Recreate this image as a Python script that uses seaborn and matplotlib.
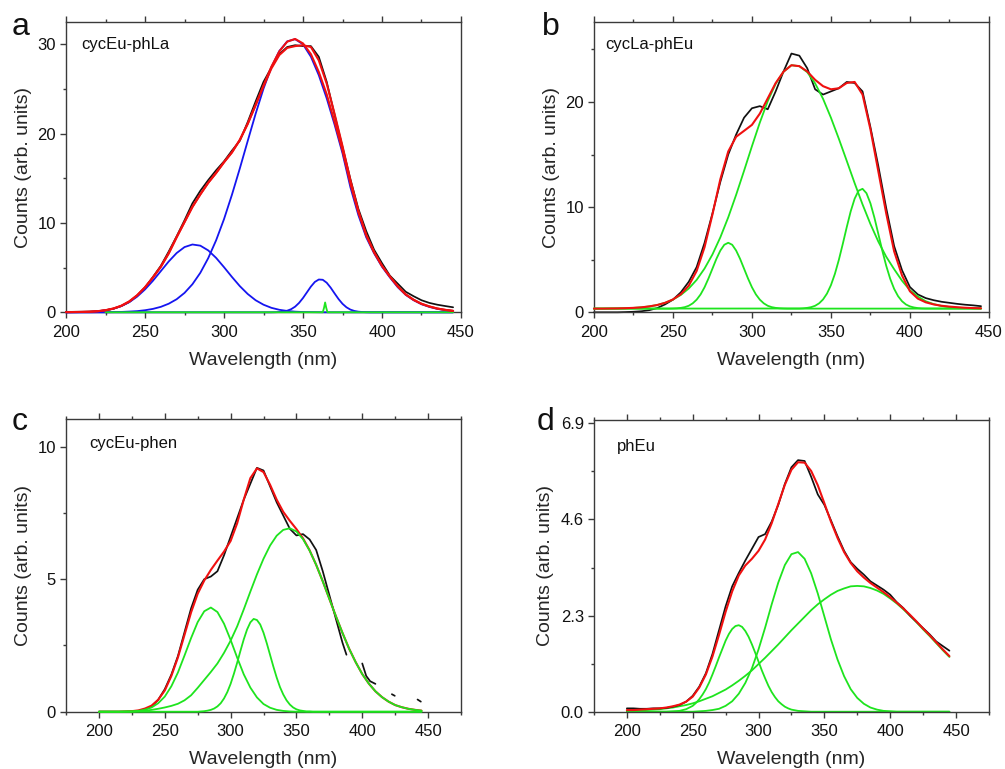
import matplotlib
matplotlib.use("Agg")
import matplotlib.pyplot as plt
import seaborn as sns
from matplotlib.ticker import FixedLocator, FixedFormatter

sns.set_style("ticks")
plt.rcParams['font.family'] = ['Liberation Sans', 'DejaVu Sans']


def grid(a, b, step):
    n = int(round((b - a) / step)) + 1
    return [a + step * i for i in range(n)]


# ---------------- data ----------------
wl = list(range(200, 450, 5))  # 200 ... 445 nm

# panel a : cycEu-phLa
a_black = [0.05, 0.05, 0.06, 0.08, 0.12, 0.22, 0.40, 0.70, 1.15, 1.85,
           2.75, 3.95, 5.2, 6.8, 8.5, 10.3, 12.2, 13.6, 14.8, 15.9,
           16.9, 18.1, 19.2, 21.3, 23.6, 25.8, 27.4, 28.9, 29.7, 29.9,
           29.8, 29.8, 28.6, 25.8, 22.1, 18.5, 14.9, 11.6, 9.1, 7.0,
           5.5, 4.1, 3.2, 2.3, 1.8, 1.35, 1.05, 0.85, 0.7, 0.56]
a_fit1 = [0.02, 0.03, 0.04, 0.06, 0.12, 0.23, 0.42, 0.73, 1.21, 1.90,
          2.80, 3.90, 5.10, 6.60, 8.40, 10.1, 11.8, 13.2, 14.5, 15.6,
          16.8, 17.9, 19.3, 21.1, 23.2, 25.4, 27.5, 29.2, 30.3, 30.6,
          30.1, 28.9, 26.9, 24.4, 21.3, 18.1, 14.4, 11.2, 8.6, 6.7,
          5.2, 4.0, 2.9, 2.0, 1.4, 0.95, 0.65, 0.42, 0.27, 0.16]
a_fit2 = [0.02, 0.03, 0.04, 0.06, 0.12, 0.23, 0.42, 0.73, 1.21, 1.90,
          2.80, 3.90, 5.10, 6.60, 8.40, 10.1, 11.8, 13.2, 14.5, 15.6,
          16.8, 17.9, 19.3, 21.1, 23.2, 25.3, 27.3, 28.8, 29.6, 29.8,
          29.9, 29.7, 28.2, 25.6, 22.2, 18.6, 14.8, 11.4, 8.7, 6.75,
          5.2, 4.0, 2.9, 2.0, 1.4, 0.95, 0.65, 0.42, 0.27, 0.16]
a_blue1 = [0.00, 0.01, 0.02, 0.05, 0.11, 0.22, 0.40, 0.69, 1.13, 1.75,
           2.56, 3.53, 4.61, 5.69, 6.63, 7.30, 7.59, 7.46, 6.93, 6.09,
           5.05, 3.96, 2.93, 2.05, 1.35, 0.85, 0.50, 0.28, 0.15, 0.07,
           0.03, 0.02, 0.01, 0, 0, 0, 0, 0, 0, 0,
           0, 0, 0, 0, 0, 0, 0, 0, 0, 0]
a_blue2 = [0, 0, 0, 0, 0.01, 0.01, 0.02, 0.04, 0.08, 0.13,
           0.23, 0.38, 0.61, 0.96, 1.46, 2.17, 3.14, 4.42, 6.06, 8.06,
           10.43, 13.15, 16.10, 19.18, 22.22, 25.04, 27.44, 29.25, 30.33, 30.58,
           30.0, 28.61, 26.54, 23.95, 21.0, 17.8, 14.0, 10.9, 8.4, 6.6,
           5.1, 3.9, 2.8, 1.95, 1.35, 0.9, 0.6, 0.38, 0.24, 0.15]
a_blue3_x = [200] + grid(330, 392.5, 2.5) + [445]
a_blue3 = [0,
           0.00, 0.01, 0.03, 0.08, 0.18, 0.35, 0.63, 1.05, 1.60, 2.24,
           2.88, 3.40, 3.67, 3.64, 3.31, 2.76, 2.11, 1.48, 0.95, 0.56,
           0.30, 0.15, 0.07, 0.03, 0.01, 0.0,
           0]
a_green_x = [225, 362.5, 363.3, 364.0, 364.7, 365.5, 445]
a_green = [0, 0, 0.5, 1.1, 0.5, 0, 0]

# panel b : cycLa-phEu
b_black = [0.0, 0.0, 0.0, 0.0, 0.02, 0.05, 0.10, 0.20, 0.40, 0.75,
           1.20, 1.90, 2.90, 4.30, 6.60, 9.40, 12.40, 15.00, 16.90, 18.50,
           19.40, 19.60, 19.30, 21.00, 22.90, 24.60, 24.40, 23.20, 21.20, 20.70,
           21.00, 21.30, 21.90, 21.80, 21.00, 17.60, 13.90, 9.90, 6.30, 4.00,
           2.40, 1.70, 1.35, 1.15, 1.00, 0.90, 0.80, 0.72, 0.66, 0.58]
b_fit = [0.35, 0.35, 0.36, 0.37, 0.39, 0.42, 0.47, 0.56, 0.69, 0.90,
         1.22, 1.72, 2.53, 3.93, 6.19, 9.30, 12.65, 15.29, 16.69, 17.25,
         17.82, 18.89, 20.34, 21.79, 22.88, 23.49, 23.40, 22.90, 22.10, 21.50,
         21.20, 21.30, 21.80, 21.90, 20.70, 17.40, 13.40, 9.40, 5.80, 3.50,
         2.00, 1.30, 0.95, 0.75, 0.62, 0.54, 0.48, 0.43, 0.40, 0.38]
b_comp1_x = [200] + grid(245, 325, 2.5) + [445]
b_comp1 = [0.35,
           0.35, 0.35, 0.36, 0.38, 0.42, 0.49, 0.62, 0.85, 1.20, 1.70,
           2.38, 3.22, 4.15, 5.08, 5.87, 6.42, 6.61, 6.42, 5.87, 5.08,
           4.15, 3.22, 2.38, 1.70, 1.20, 0.85, 0.62, 0.49, 0.42, 0.38,
           0.36, 0.35, 0.35,
           0.35]
b_comp2 = [0.35, 0.35, 0.36, 0.37, 0.39, 0.42, 0.47, 0.56, 0.69, 0.90,
           1.21, 1.65, 2.26, 3.08, 4.16, 5.50, 7.13, 9.03, 11.17, 13.45,
           15.79, 18.04, 20.07, 21.72, 22.87, 23.49, 23.40, 22.83, 21.76, 20.30,
           18.50, 16.50, 14.40, 12.28, 10.26, 8.39, 6.72, 5.28, 4.10, 3.00,
           2.10, 1.50, 1.05, 0.78, 0.60, 0.50, 0.44, 0.40, 0.38, 0.37]
b_comp3_x = [200] + grid(330, 410, 2.5) + [445]
b_comp3 = [0.35,
           0.36, 0.38, 0.42, 0.49, 0.62, 0.85, 1.22, 1.78, 2.58, 3.65,
           4.98, 6.50, 8.09, 9.59, 10.80, 11.56, 11.74, 11.32, 10.36, 9.01,
           7.45, 5.87, 4.42, 3.19, 2.23, 1.53, 1.05, 0.74, 0.56, 0.46,
           0.40, 0.37, 0.36,
           0.35]

# panel c : cycEu-phen (measured trace has gaps)
c_black_x = list(range(200, 390, 5)) + [388]
c_black = [0, 0, 0, 0, 0, 0.01, 0.03, 0.08, 0.20, 0.45,
           0.85, 1.40, 2.10, 3.00, 3.90, 4.60, 5.00, 5.10, 5.30, 5.90,
           6.60, 7.30, 8.00, 8.60, 9.20, 9.10, 8.50, 7.90, 7.40, 6.90,
           6.65, 6.70, 6.50, 6.10, 5.30, 4.40, 3.50, 2.60,
           2.15]
c_black2_x = [400, 403, 406, 410]
c_black2 = [1.82, 1.35, 1.15, 1.05]
c_black3_x = [422.5, 424.7]
c_black3 = [0.66, 0.60]
c_black4_x = [442, 444.5]
c_black4 = [0.46, 0.38]
c_fit = [0, 0, 0, 0, 0.01, 0.02, 0.05, 0.12, 0.23, 0.45,
         0.80, 1.35, 2.05, 2.90, 3.75, 4.45, 4.95, 5.35, 5.70, 6.04,
         6.44, 7.11, 8.00, 8.81, 9.18, 9.04, 8.56, 8.00, 7.54, 7.20,
         6.89, 6.54, 6.09, 5.54, 4.92, 4.26, 3.60, 2.97, 2.38, 1.87,
         1.42, 1.06, 0.77, 0.55, 0.38, 0.25, 0.17, 0.11, 0.07, 0.04]
c_comp1 = [0, 0, 0, 0, 0, 0.01, 0.03, 0.08, 0.16, 0.32,
           0.57, 0.96, 1.48, 2.12, 2.78, 3.38, 3.79, 3.93, 3.76, 3.32,
           2.71, 2.04, 1.41, 0.91, 0.54, 0.29, 0.15, 0.07, 0.03, 0.01,
           0, 0, 0, 0, 0, 0, 0, 0, 0, 0,
           0, 0, 0, 0, 0, 0, 0, 0, 0, 0]
c_comp2_x = [200] + grid(275, 365, 2.5) + [445]
c_comp2 = [0,
           0.00, 0.01, 0.02, 0.04, 0.07, 0.12, 0.20, 0.32, 0.50, 0.74,
           1.05, 1.43, 1.85, 2.30, 2.73, 3.10, 3.37, 3.50, 3.46, 3.29,
           2.98, 2.58, 2.14, 1.70, 1.29, 0.93, 0.65, 0.43, 0.27, 0.16,
           0.09, 0.05, 0.03, 0.01, 0.01, 0, 0,
           0]
c_comp3 = [0, 0, 0, 0, 0.01, 0.01, 0.02, 0.04, 0.07, 0.11,
           0.16, 0.22, 0.30, 0.43, 0.62, 0.90, 1.20, 1.50, 1.82, 2.22,
           2.68, 3.22, 3.86, 4.53, 5.18, 5.77, 6.27, 6.64, 6.86, 6.92,
           6.80, 6.51, 6.08, 5.54, 4.92, 4.26, 3.60, 2.97, 2.38, 1.87,
           1.42, 1.06, 0.77, 0.55, 0.38, 0.25, 0.17, 0.11, 0.07, 0.04]

# panel d : phEu
d_black = [0.08, 0.08, 0.07, 0.07, 0.08, 0.08, 0.09, 0.12, 0.16, 0.24,
           0.38, 0.60, 0.92, 1.38, 1.95, 2.52, 3.00, 3.32, 3.62, 3.90,
           4.18, 4.25, 4.55, 4.95, 5.45, 5.85, 6.02, 6.00, 5.62, 5.20,
           4.95, 4.58, 4.20, 3.85, 3.58, 3.42, 3.28, 3.12, 3.02, 2.92,
           2.80, 2.62, 2.48, 2.30, 2.15, 2.00, 1.85, 1.68, 1.57, 1.46]
d_fit = [0.04, 0.04, 0.05, 0.06, 0.07, 0.08, 0.10, 0.13, 0.17, 0.24,
         0.36, 0.58, 0.89, 1.32, 1.84, 2.39, 2.88, 3.26, 3.50, 3.66,
         3.85, 4.12, 4.51, 4.97, 5.43, 5.79, 5.97, 5.96, 5.76, 5.42,
         4.99, 4.55, 4.16, 3.82, 3.56, 3.36, 3.21, 3.08, 2.97, 2.86,
         2.74, 2.61, 2.47, 2.32, 2.16, 1.99, 1.83, 1.66, 1.49, 1.33]
d_comp1_x = [200, 230, 235, 240, 245] + grid(250, 322.5, 2.5) + [325, 330, 335, 340, 445]
d_comp1 = [0, 0, 0.01, 0.02, 0.06,
           0.14, 0.21, 0.30, 0.41, 0.54, 0.70, 0.89, 1.09, 1.30, 1.50,
           1.70, 1.86, 1.98, 2.05, 2.07, 2.03, 1.93, 1.79, 1.61, 1.41,
           1.20, 0.99, 0.80, 0.62, 0.47, 0.35, 0.25, 0.18, 0.12, 0.08,
           0.05, 0.02, 0.01, 0, 0]
d_comp2 = [0, 0, 0, 0, 0, 0, 0, 0, 0, 0,
           0, 0.01, 0.02, 0.04, 0.07, 0.14, 0.25, 0.43, 0.69, 1.04,
           1.49, 2.01, 2.57, 3.09, 3.51, 3.77, 3.82, 3.66, 3.31, 2.83,
           2.28, 1.73, 1.25, 0.85, 0.54, 0.33, 0.19, 0.10, 0.05, 0.02,
           0.01, 0, 0, 0, 0, 0, 0, 0, 0, 0]
d_comp3 = [0.02, 0.02, 0.03, 0.04, 0.05, 0.06, 0.08, 0.10, 0.13, 0.16,
           0.20, 0.25, 0.31, 0.37, 0.45, 0.53, 0.63, 0.74, 0.86, 0.99,
           1.14, 1.29, 1.45, 1.61, 1.78, 1.95, 2.11, 2.27, 2.43, 2.57,
           2.69, 2.80, 2.89, 2.95, 3.00, 3.01, 3.00, 2.96, 2.90, 2.82,
           2.71, 2.59, 2.45, 2.30, 2.14, 1.97, 1.81, 1.64, 1.47, 1.31]

labels = ['cycEu-phLa', 'cycLa-phEu', 'cycEu-phen', 'phEu']
letters = ['a', 'b', 'c', 'd']
d_yticks = [0.0, 2.3, 4.6, 6.9]
d_yticklabels = ['0.0', '2.3', '4.6', '6.9']

# ---------------- styling ----------------
BLACK = '#111111'
RED = '#f01010'
BLUE = '#1515f0'
GREEN = '#1ee41e'
SPINE = '#3a3a3a'


def line(ax, x, y, color, lw=1.1, z=2):
    sns.lineplot(x=x, y=y, ax=ax, color=color, linewidth=lw, estimator=None,
                 sort=False, legend=False, zorder=z, clip_on=False)


def style(ax, xlim, ylim, xmaj, xmin, ymaj, ymin, ylabels=None):
    ax.set_xlim(*xlim)
    ax.set_ylim(*ylim)
    ax.xaxis.set_major_locator(FixedLocator(xmaj))
    ax.xaxis.set_minor_locator(FixedLocator(xmin))
    ax.yaxis.set_major_locator(FixedLocator(ymaj))
    ax.yaxis.set_minor_locator(FixedLocator(ymin))
    if ylabels is not None:
        ax.yaxis.set_major_formatter(FixedFormatter(ylabels))
    ax.tick_params(which='both', direction='out', top=True, right=False,
                   labeltop=False, labelsize=12, color=SPINE, width=1.0,
                   labelcolor='#111111')
    ax.tick_params(which='major', length=4.3)
    ax.tick_params(which='minor', length=2.4)
    ax.tick_params(axis='x', which='major', pad=4.5)
    ax.tick_params(axis='y', which='major', pad=3)
    for s in ax.spines.values():
        s.set_visible(True)
        s.set_color(SPINE)
        s.set_linewidth(1.0)
    ax.set_xlabel('Wavelength (nm)', fontsize=14, labelpad=9)
    ax.set_ylabel('Counts (arb. units)', fontsize=14)
    ax.grid(False)


LW_DATA, LW_FIT, LW_COMP = 1.25, 1.5, 1.3

fig = plt.figure(figsize=(10.05, 7.69), dpi=100)
axa = fig.add_axes([0.0657, 0.5939, 0.393, 0.3775])
axb = fig.add_axes([0.591, 0.5939, 0.393, 0.3775])
axc = fig.add_axes([0.0657, 0.0745, 0.393, 0.3802])
axd = fig.add_axes([0.591, 0.0745, 0.393, 0.3793])

# panel a
line(axa, wl, a_black, BLACK, LW_DATA, 2)
line(axa, wl, a_blue1, BLUE, LW_COMP, 3)
line(axa, wl, a_blue2, BLUE, LW_COMP, 3)
line(axa, a_blue3_x, a_blue3, BLUE, LW_COMP, 3)
line(axa, a_green_x, a_green, GREEN, LW_COMP, 3.5)
line(axa, wl, a_fit2, RED, LW_FIT, 4)
line(axa, wl, a_fit1, RED, LW_FIT, 4)
style(axa, (200, 450), (0, 32.5), list(range(200, 451, 50)),
      list(range(225, 450, 50)), [0, 10, 20, 30], [5, 15, 25])

# panel b
line(axb, wl, b_black, BLACK, LW_DATA, 2)
line(axb, b_comp1_x, b_comp1, GREEN, LW_COMP, 3)
line(axb, wl, b_comp2, GREEN, LW_COMP, 3)
line(axb, b_comp3_x, b_comp3, GREEN, LW_COMP, 3)
line(axb, wl, b_fit, RED, LW_FIT, 4)
style(axb, (200, 450), (0, 27.6), list(range(200, 451, 50)),
      list(range(225, 450, 50)), [0, 10, 20], [5, 15, 25])

# panel c
line(axc, c_black_x, c_black, BLACK, LW_DATA, 2)
line(axc, c_black2_x, c_black2, BLACK, LW_DATA, 2)
line(axc, c_black3_x, c_black3, BLACK, LW_DATA, 2)
line(axc, c_black4_x, c_black4, BLACK, LW_DATA, 2)
line(axc, wl, c_fit, RED, LW_FIT, 3)
line(axc, wl, c_comp1, GREEN, LW_COMP, 4)
line(axc, c_comp2_x, c_comp2, GREEN, LW_COMP, 4)
line(axc, wl, c_comp3, GREEN, LW_COMP, 4)
style(axc, (175, 475), (0, 11.03), list(range(200, 451, 50)),
      list(range(175, 476, 50)), [0, 5, 10], [2.5, 7.5])

# panel d
line(axd, d_comp1_x, d_comp1, GREEN, LW_COMP, 2)
line(axd, wl, d_comp2, GREEN, LW_COMP, 2)
line(axd, wl, d_comp3, GREEN, LW_COMP, 2)
line(axd, wl, d_black, BLACK, LW_DATA, 3)
line(axd, wl, d_fit, RED, LW_FIT, 4)
style(axd, (175, 475), (0, 6.98), list(range(200, 451, 50)),
      list(range(175, 476, 50)), d_yticks, [1.15, 3.45, 5.75], d_yticklabels)

label_pos = [(0.038, 0.924), (0.028, 0.921), (0.059, 0.918), (0.059, 0.9085)]
for ax, lab, (tx, ty) in zip([axa, axb, axc, axd], labels, label_pos):
    ax.text(tx, ty, lab, transform=ax.transAxes, fontsize=12, va='center',
            ha='left', color='#111111')
    ax.yaxis.set_label_coords(-0.085, 0.5)
axd.yaxis.set_label_coords(-0.10, 0.5)

letter_pos = [(0.012, 0.9545), (0.539, 0.9545), (0.012, 0.4408), (0.534, 0.4408)]
for let, (lx, ly) in zip(letters, letter_pos):
    fig.text(lx, ly, let, fontsize=23, va='baseline', ha='left', color='#111111')

fig.savefig('out.png', dpi=100)
